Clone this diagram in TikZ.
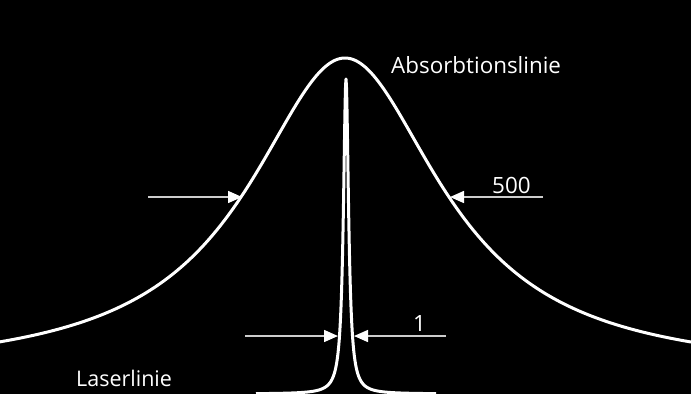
\documentclass[tikz,border=0pt]{standalone}
\usepackage{fontspec}
\setmainfont{Open Sans}
\usetikzlibrary{arrows.meta}
\begin{document}
\begin{tikzpicture}[x=1pt,y=-1pt,
  bcurve/.style={white, line width=3pt, line join=round},
  dimarrow/.style={white!80!black, line width=1.5pt, -{Triangle[length=14pt,width=12pt,color=white]}},
  txt/.style={white, anchor=base west, inner sep=0pt, font=\fontsize{22.4}{26}\selectfont}]
\useasboundingbox (0,0) rectangle (693,400);
\fill[white] (0,0) rectangle (693,400);
\fill[black] (0,0) rectangle (691,394);
\begin{scope}
\clip (0,0) rectangle (691,394);
\draw[bcurve] plot[domain=0:691, samples=300, smooth] (\x,{374.8-316.8/(1+((\x-345)/117.6)^2)});
\draw[bcurve] plot[domain=256:436, samples=401] (\x,{394-315/(1+((\x-346)/3.09)^2)});
\end{scope}
% dimension arrows
\coordinate (bls) at (148,197);
\coordinate (ble) at (242,197);
\coordinate (brs) at (543,197);
\coordinate (bre) at (450,197);
\coordinate (nls) at (245,336);
\coordinate (nle) at (338,336);
\coordinate (nrs) at (446,336);
\coordinate (nre) at (354,336);
\draw[dimarrow] (bls) -- (ble);
\draw[dimarrow] (brs) -- (bre);
\draw[dimarrow] (nls) -- (nle);
\draw[dimarrow] (nrs) -- (nre);
% labels
\node[txt] (abs) at (391,73) {Absorbtionslinie};
\node[txt, font=\fontsize{21.5}{26}\selectfont] (las) at (76,386) {Laserlinie};
\node[txt] (n500) at (492,193) {500};
\node[txt] (n1) at (413,331) {1};
\end{tikzpicture}
\end{document}
